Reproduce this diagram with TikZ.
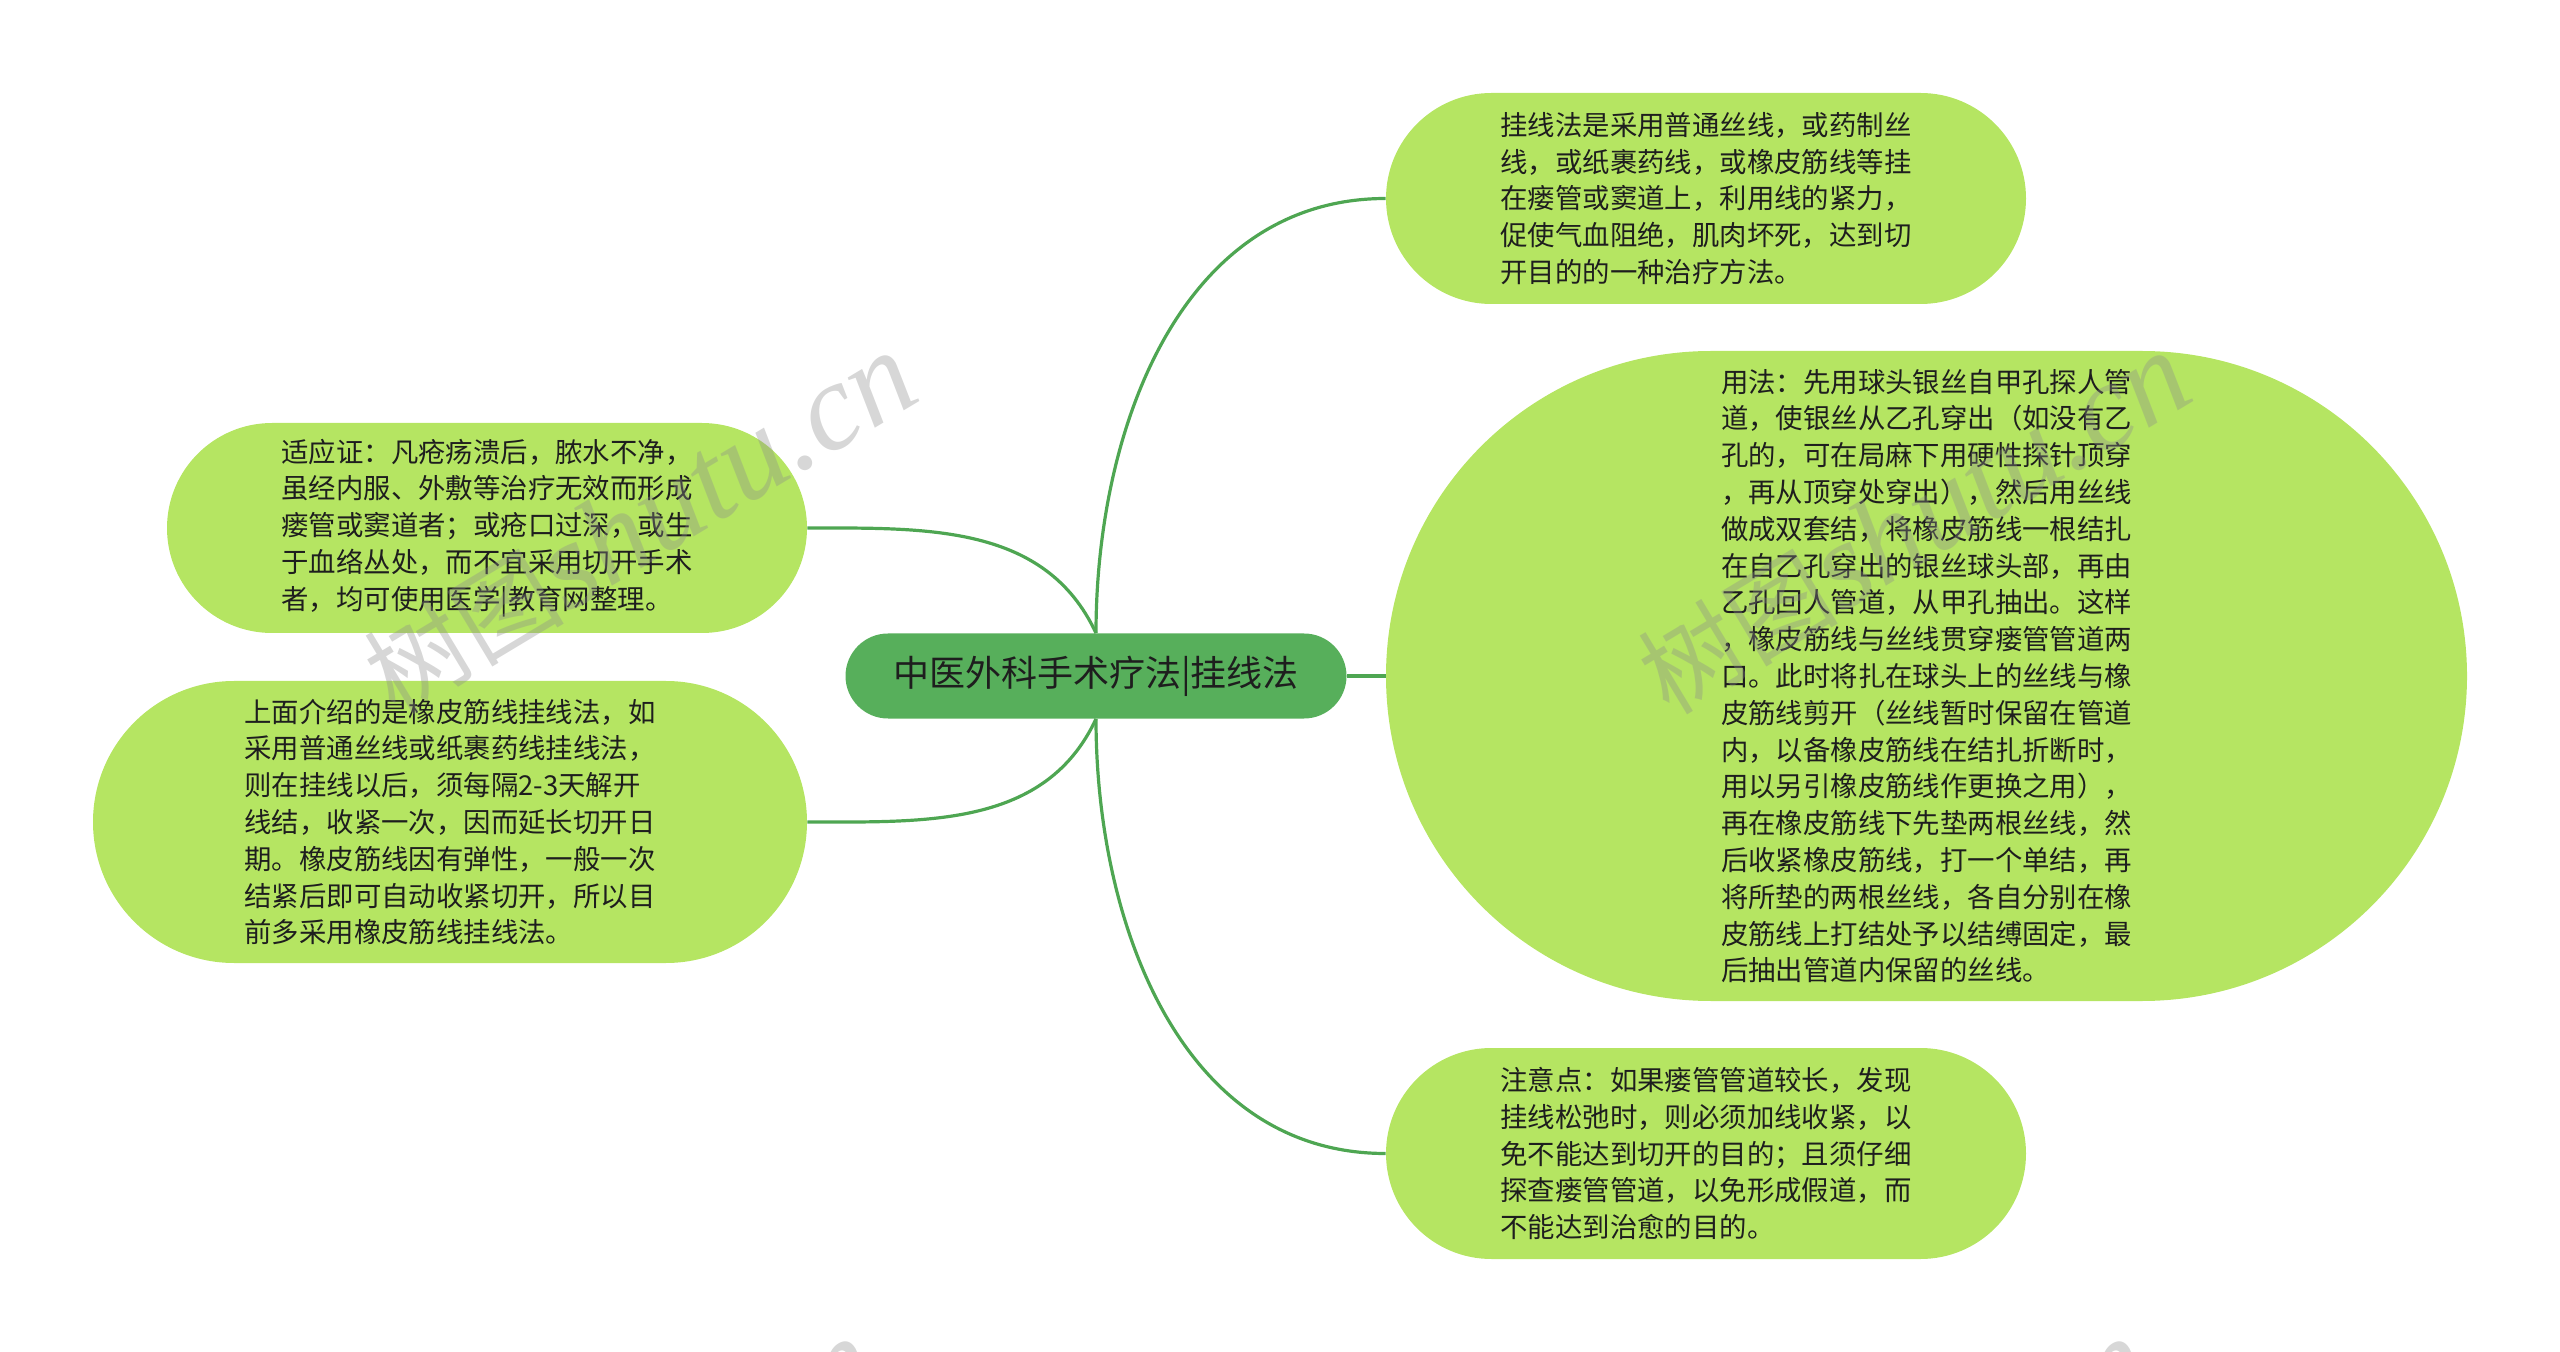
\documentclass[tikz,border=0pt]{standalone}
\usepackage{fontspec}
\setmainfont{Noto Sans CJK SC}
\newfontfamily\wmserif{Liberation Serif}
\usetikzlibrary{positioning}
\definecolor{rootgreen}{RGB}{87,175,91}
\definecolor{leafgreen}{RGB}{181,229,98}
\definecolor{linkgreen}{RGB}{78,166,82}
\definecolor{txtdark}{RGB}{30,30,30}
\tikzset{
  rootnode/.style={fill=rootgreen, text=txtdark, font=\fontsize{18pt}{22pt}\selectfont,
    minimum width=250.5pt, minimum height=42.5pt, rounded corners=21.25pt, inner sep=0pt},
  leaf/.style={fill=leafgreen, text=txtdark, align=left, inner sep=0pt,
    font=\fontsize{13.7pt}{18.4pt}\selectfont},
  link/.style={draw=linkgreen, line width=1.6pt},
  wmark/.style={text=black!45, opacity=.35, rotate=31, inner sep=0pt}
}
\begin{document}
\begin{tikzpicture}[x=0.5pt,y=-0.5pt]
\useasboundingbox (0,0) rectangle (2560,1352);

\node[rootnode] (root) at (1096,676) {中医外科手术疗法|挂线法};

\node[leaf, minimum width=320pt, minimum height=105.5pt, rounded corners=52.75pt] (guaxian) at (1706,198.5)
  {挂线法是采用普通丝线，或药制丝\\线，或纸裹药线，或橡皮筋线等挂\\在瘘管或窦道上，利用线的紧力，\\促使气血阻绝，肌肉坏死，达到切\\开目的的一种治疗方法。};

\node[leaf, minimum width=540.5pt, minimum height=325pt, rounded corners=162.5pt] (yongfa) at (1926.5,676)
  {用法：先用球头银丝自甲孔探人管\\道，使银丝从乙孔穿出（如没有乙\\孔的，可在局麻下用硬性探针顶穿\\，再从顶穿处穿出），然后用丝线\\做成双套结，将橡皮筋线一根结扎\\在自乙孔穿出的银丝球头部，再由\\乙孔回人管道，从甲孔抽出。这样\\，橡皮筋线与丝线贯穿瘘管管道两\\口。此时将扎在球头上的丝线与橡\\皮筋线剪开（丝线暂时保留在管道\\内，以备橡皮筋线在结扎折断时，\\用以另引橡皮筋线作更换之用），\\再在橡皮筋线下先垫两根丝线，然\\后收紧橡皮筋线，打一个单结，再\\将所垫的两根丝线，各自分别在橡\\皮筋线上打结处予以结缚固定，最\\后抽出管道内保留的丝线。};

\node[leaf, minimum width=320pt, minimum height=105.5pt, rounded corners=52.75pt] (zhuyi) at (1706,1153.5)
  {注意点：如果瘘管管道较长，发现\\挂线松弛时，则必须加线收紧，以\\免不能达到切开的目的；且须仔细\\探查瘘管管道，以免形成假道，而\\不能达到治愈的目的。};

\node[leaf, minimum width=320pt, minimum height=105pt, rounded corners=52.5pt] (shiying) at (487,528)
  {适应证：凡疮疡溃后，脓水不净，\\虽经内服、外敷等治疗无效而形成\\瘘管或窦道者；或疮口过深，或生\\于血络丛处，而不宜采用切开手术\\者，均可使用医学|教育网整理。};

\node[leaf, minimum width=357pt, minimum height=141pt, rounded corners=70.5pt] (xiangpi) at (450,822)
  {上面介绍的是橡皮筋线挂线法，如\\采用普通丝线或纸裹药线挂线法，\\则在挂线以后，须每隔2-3天解开\\线结，收紧一次，因而延长切开日\\期。橡皮筋线因有弹性，一般一次\\结紧后即可自动收紧切开，所以目\\前多采用橡皮筋线挂线法。};

\draw[link] (root.east) -- (yongfa.west);
\draw[link] (root.north) to[out=90,in=180] (guaxian.west);
\draw[link] (root.north) to[out=115,in=0] (shiying.east);
\draw[link] (root.south) to[out=-90,in=180] (zhuyi.west);
\draw[link] (root.south) to[out=-115,in=0] (xiangpi.east);

\foreach \wx/\wy/\wn in {640/524/wma, 1914/524/wmb, 600/1510/wmc, 1874/1510/wmd}
  \node[wmark] (\wn) at (\wx,\wy) {\fontsize{50pt}{50pt}\selectfont 树图\wmserif\itshape\fontsize{62pt}{62pt}\selectfont shutu.cn};
\end{tikzpicture}
\end{document}
